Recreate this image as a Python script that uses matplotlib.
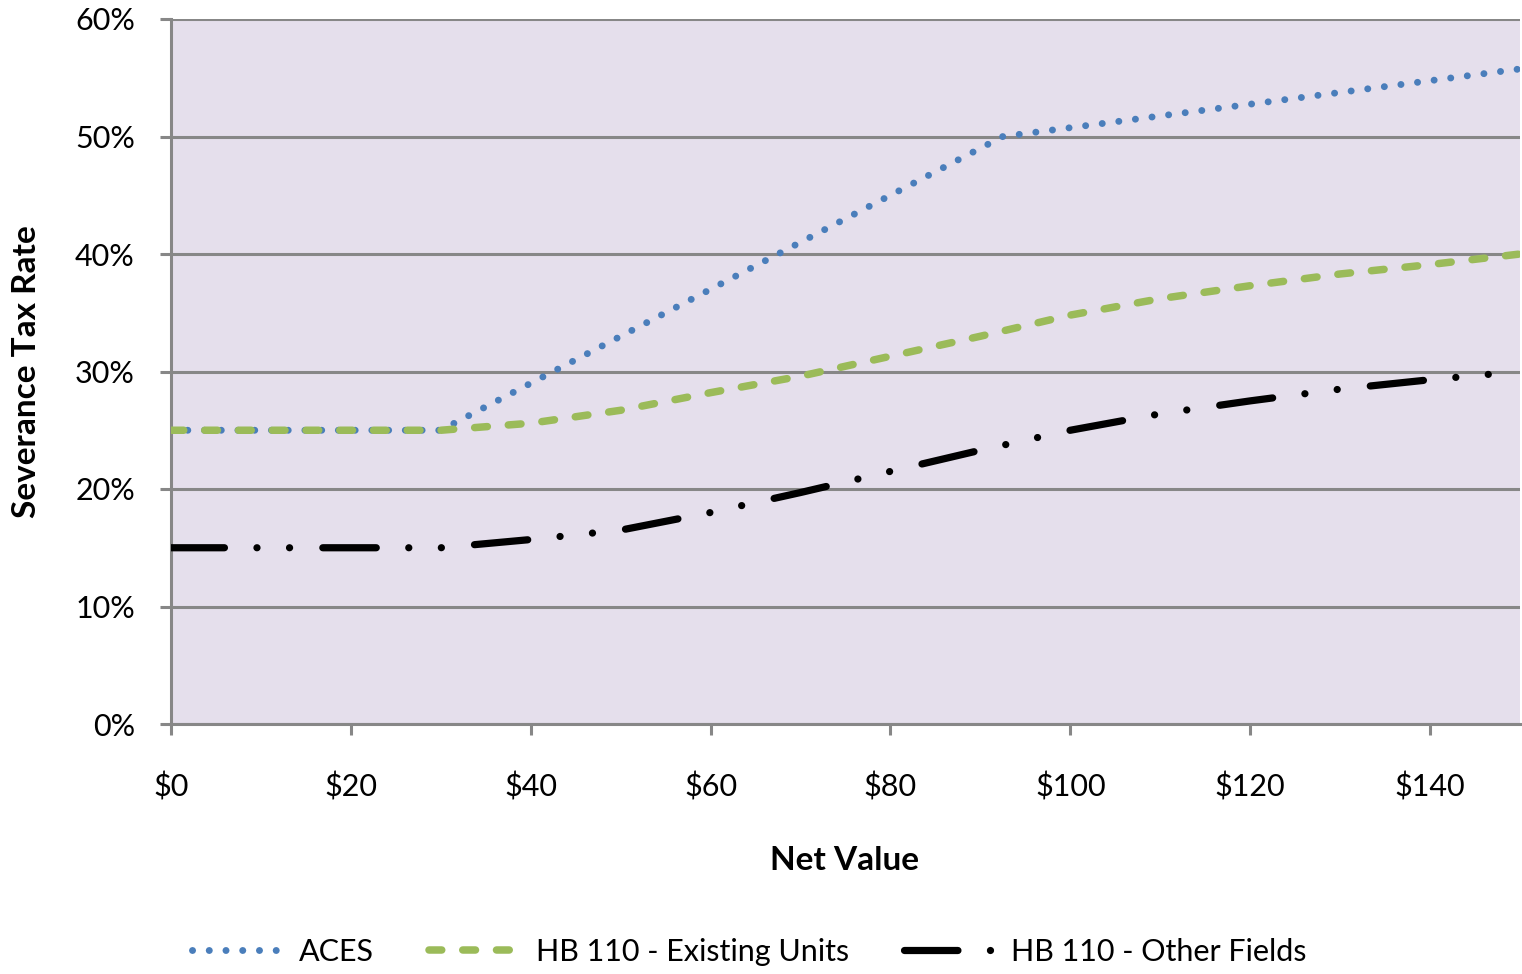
import matplotlib
matplotlib.use("Agg")
import matplotlib.pyplot as plt
from matplotlib.ticker import FuncFormatter

plt.rcParams['font.family'] = ['Lato', 'DejaVu Sans']

# Net value ($) and severance tax rate (%) for each regime
aces_x = [0, 30, 92.5, 150]
aces_y = [25, 25, 50, 55.75]

existing_x = [0, 30, 40, 50, 60, 70, 80, 90, 100, 110, 120, 130, 140, 150]
existing_y = [25, 25, 25.6, 26.7, 28.2, 29.6, 31.3, 33.0, 34.8, 36.2, 37.3, 38.3, 39.1, 40.0]

other_x = [0, 30, 40, 50, 60, 70, 80, 90, 100, 110, 120, 130, 140, 150]
other_y = [15, 15, 15.7, 16.5, 18.0, 19.7, 21.5, 23.3, 25.0, 26.4, 27.5, 28.5, 29.3, 30.0]

series_names = ["ACES", "HB 110 - Existing Units", "HB 110 - Other Fields"]
x_ticks = [0, 20, 40, 60, 80, 100, 120, 140]
y_ticks = [0, 10, 20, 30, 40, 50, 60]

fig = plt.figure(figsize=(15.22, 9.74), dpi=100)
ax = fig.add_axes([171 / 1522, 1 - 724 / 974, (1520 - 171) / 1522, (724 - 19) / 974])
ax.set_facecolor('#E5DFEC')

grid_c = '#878787'

ax.plot(aces_x, aces_y, color='#4A7EBB', lw=5.0,
        linestyle=(0, (0.01, 2.4)), dash_capstyle='round', solid_capstyle='round',
        label=series_names[0], zorder=3)
ax.plot(existing_x, existing_y, color='#9BBB59', lw=5.4,
        linestyle=(0, (1.7, 2.8)), dash_capstyle='round',
        label=series_names[1], zorder=4)
ax.plot(other_x, other_y, color='#000000', lw=5.2,
        linestyle=(0, (7.4, 4.5, 0.01, 4.5, 0.01, 4.6)), dash_capstyle='round',
        label=series_names[2], zorder=5)

ax.set_xlim(0, 150)
ax.set_ylim(0, 60)
ax.set_xticks(x_ticks)
ax.set_yticks(y_ticks)
ax.xaxis.set_major_formatter(FuncFormatter(lambda v, p: f"${int(v)}"))
ax.yaxis.set_major_formatter(FuncFormatter(lambda v, p: f"{int(v)}%"))

ax.grid(axis='y', color=grid_c, lw=2.2, zorder=1)
ax.set_axisbelow(True)
for s in ['top', 'right']:
    ax.spines[s].set_visible(False)
for s in ['left', 'bottom']:
    ax.spines[s].set_color(grid_c)
    ax.spines[s].set_linewidth(2.2)

ax.tick_params(axis='x', direction='out', length=8, width=2.2, color=grid_c,
               pad=27, labelsize=22)
ax.tick_params(axis='y', direction='out', length=8, width=2.2, color=grid_c,
               pad=18, labelsize=22)

fig.text(845 / 1522, 1 - 860 / 974, "Net Value",
         fontsize=24, fontweight='bold', ha='center', va='center')
fig.text(27 / 1522, 1 - 372 / 974, "Severance Tax Rate", rotation=90,
         fontsize=24, fontweight='bold', ha='center', va='center')

fig.legend(loc='center', bbox_to_anchor=(749 / 1522, 1 - 952 / 974), ncol=3,
           frameon=False, fontsize=22, handlelength=3.0, handletextpad=0.5,
           columnspacing=1.8)

fig.savefig("out.png", dpi=100)
